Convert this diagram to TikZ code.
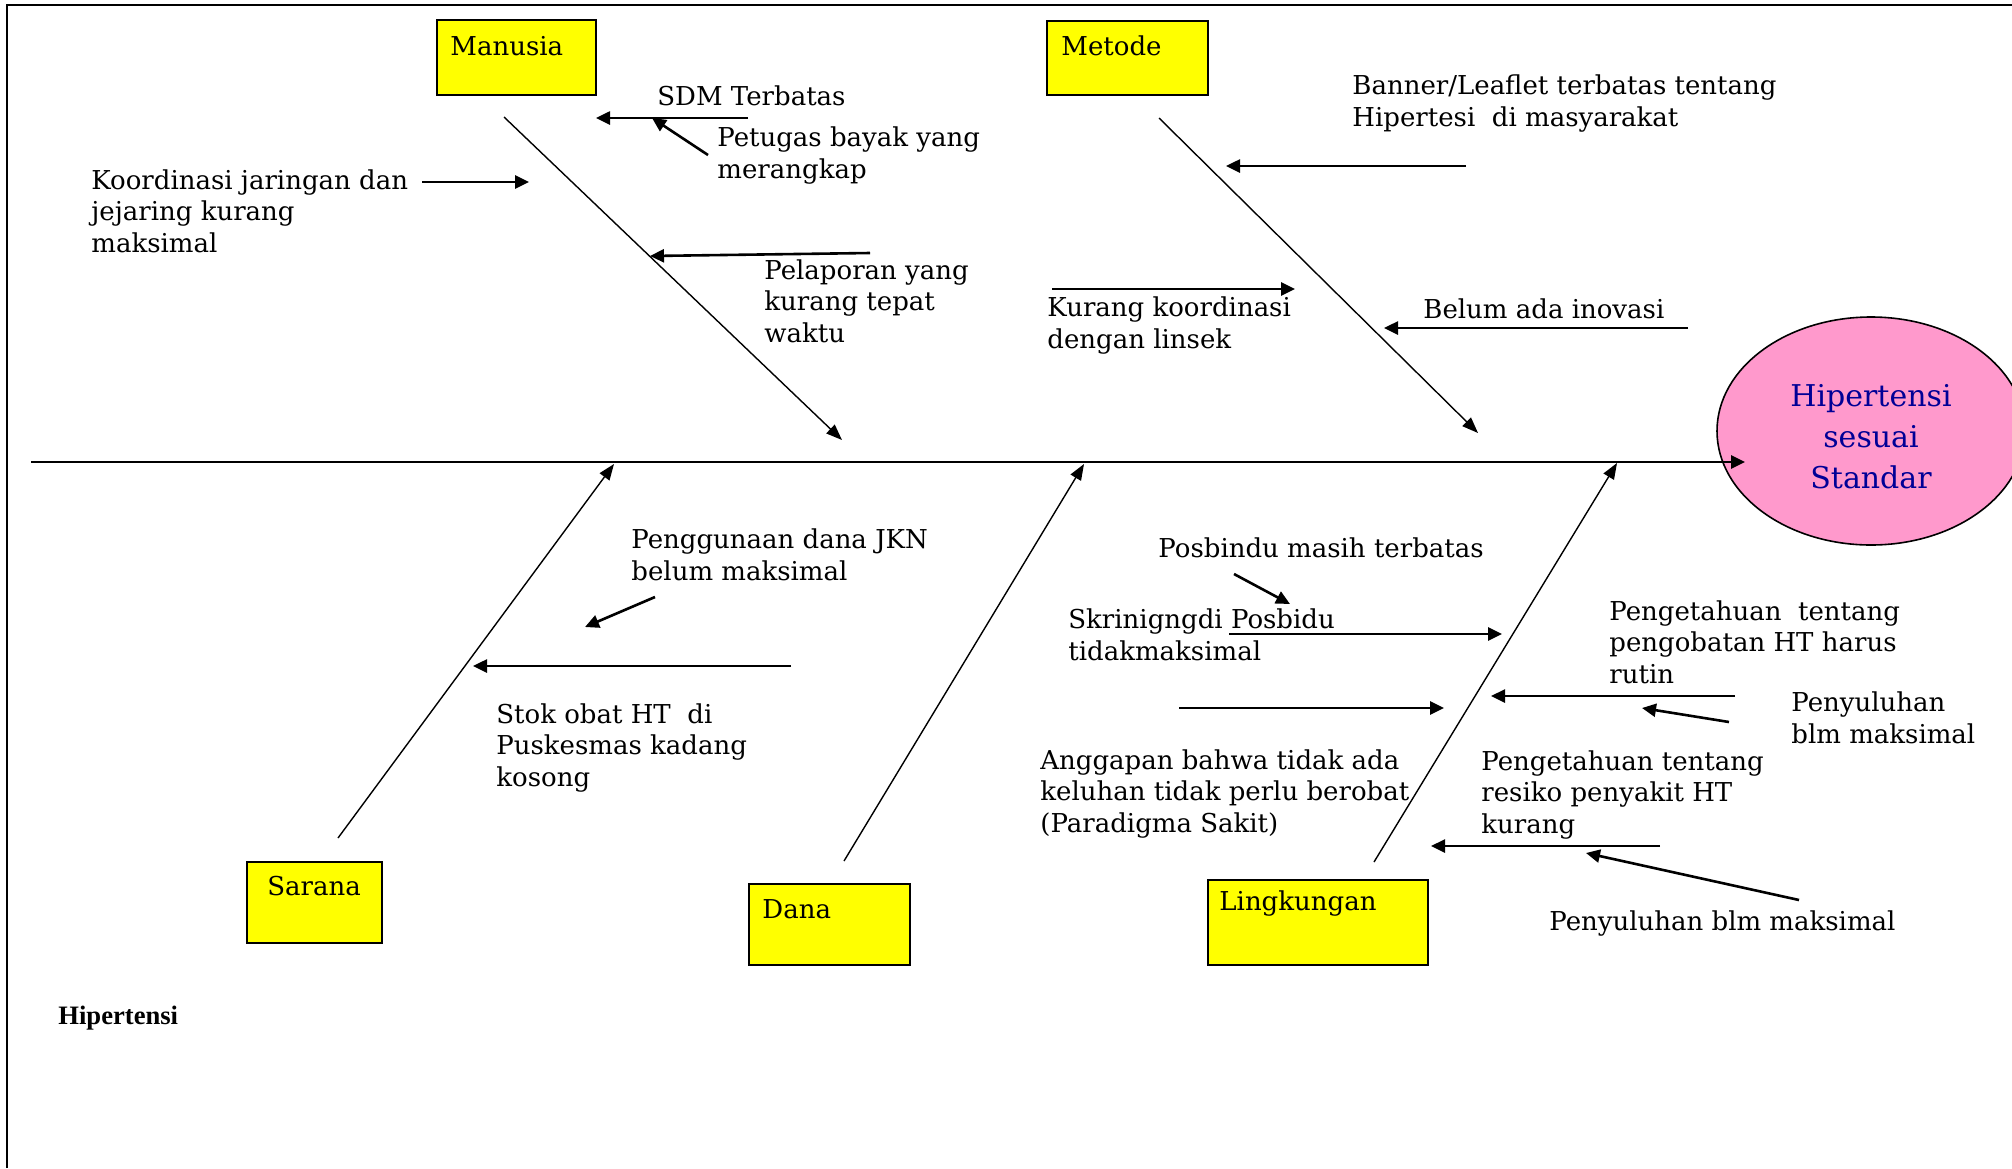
\documentclass[tikz,border=0pt]{standalone}
\usepackage{fontspec}
\setmainfont{DejaVu Serif}
\newfontfamily\timesfont{Liberation Serif}
\usetikzlibrary{arrows.meta,shapes.geometric}
\definecolor{boxyellow}{RGB}{255,255,0}
\definecolor{effectpink}{RGB}{255,153,204}
\definecolor{effectblue}{RGB}{0,0,150}

\begin{document}
\begin{tikzpicture}[x=0.5pt,y=0.5pt,yscale=-1,xscale=1,
  txt/.style={anchor=base west,inner sep=0pt,align=left,font=\fontsize{13}{15.6}\selectfont},
  catbox/.style={draw,line width=1pt,fill=boxyellow,anchor=north west,inner sep=0pt},
  bone/.style={line width=0.7pt,-{Triangle[length=8pt,width=6pt]}},
  cause/.style={line width=1.3pt,-{Triangle[length=7pt,width=6.5pt]}}]
\useasboundingbox (0,0) rectangle (2012,1168);

%Frame
\draw [line width=1pt] (7,1168) -- (7,5) -- (2012,5) ;

%Shape: Ellipse
\node [ellipse,draw,line width=0.8pt,fill=effectpink,minimum width=154pt,minimum height=114pt,inner sep=0pt] (effect) at (1871,431) {};
% Text Node (baseline of last line)
\node [anchor=base,inner sep=0pt,align=center,text=effectblue,font=\fontsize{15}{20.5}\selectfont] (effecttxt) at (1871,488) {Hipertensi\\sesuai\\Standar};

%Straight Lines (spine)
\coordinate (tail) at (31,462);
\coordinate (head) at (1745,462);
\draw [cause] (tail) -- (head) ;

%Shape: Rectangle
\node [catbox,minimum width=79.5pt,minimum height=37.5pt] (manusia) at (436,19) {};
\node [txt] (manusiatxt) at (450,55) {Manusia};
%Shape: Rectangle
\node [catbox,minimum width=80.5pt,minimum height=37pt] (metode) at (1046,20) {};
\node [txt] (metodetxt) at (1061,55) {Metode};
%Shape: Rectangle
\node [catbox,minimum width=67.5pt,minimum height=40.5pt] (sarana) at (246,861) {};
\node [txt] (saranatxt) at (267,895) {Sarana};
%Shape: Rectangle
\node [catbox,minimum width=80.5pt,minimum height=40.5pt] (dana) at (748,883) {};
\node [txt] (danatxt) at (762,918) {Dana};
%Shape: Rectangle
\node [catbox,minimum width=110pt,minimum height=42.5pt] (lingkungan) at (1207,879) {};
\node [txt] (lingkungantxt) at (1219,910) {Lingkungan};

%Straight Lines (bones)
\coordinate (manusia-a) at (504,117);
\coordinate (manusia-b) at (842,440);
\draw [bone] (manusia-a) -- (manusia-b) ;
\coordinate (metode-a) at (1159,118);
\coordinate (metode-b) at (1478,433);
\draw [bone] (metode-a) -- (metode-b) ;
\coordinate (sarana-a) at (338,838);
\coordinate (sarana-b) at (614,464);
\draw [bone] (sarana-a) -- (sarana-b) ;
\coordinate (dana-a) at (844,861);
\coordinate (dana-b) at (1084,464);
\draw [bone] (dana-a) -- (dana-b) ;
\coordinate (lingkungan-a) at (1374,862);
\coordinate (lingkungan-b) at (1617,463);
\draw [bone] (lingkungan-a) -- (lingkungan-b) ;

% Text Node
\node [txt] (sdm) at (657,105) {SDM Terbatas};
\coordinate (sdm-a) at (748,118);
\coordinate (sdm-b) at (596,118);
\draw [cause] (sdm-a) -- (sdm-b) ;
% Text Node
\node [txt] (petugas) at (717,178) {Petugas bayak yang\\merangkap};
\coordinate (petugas-a) at (708,155);
\coordinate (petugas-b) at (652,118);
\draw [cause] (petugas-a) -- (petugas-b) ;
% Text Node
\node [txt] (koordinasi) at (91,252) {Koordinasi jaringan dan\\jejaring kurang\\maksimal};
\coordinate (koordinasi-a) at (422,182);
\coordinate (koordinasi-b) at (529,182);
\draw [cause] (koordinasi-a) -- (koordinasi-b) ;
% Text Node
\node [txt] (pelaporan) at (764,342) {Pelaporan yang\\kurang tepat\\waktu};
\coordinate (pelaporan-a) at (870,253);
\coordinate (pelaporan-b) at (650,256);
\draw [cause] (pelaporan-a) -- (pelaporan-b) ;

% Text Node
\node [txt] (banner) at (1352,126) {Banner/Leaflet terbatas tentang\\Hipertesi\ \ di masyarakat};
\coordinate (banner-a) at (1466,166);
\coordinate (banner-b) at (1226,166);
\draw [cause] (banner-a) -- (banner-b) ;
% Text Node
\node [txt] (linsek) at (1047,348) {Kurang koordinasi\\dengan linsek};
\coordinate (linsek-a) at (1052,289);
\coordinate (linsek-b) at (1295,289);
\draw [cause] (linsek-a) -- (linsek-b) ;
% Text Node
\node [txt] (inovasi) at (1423,318) {Belum ada inovasi};
\coordinate (inovasi-a) at (1688,328);
\coordinate (inovasi-b) at (1384,328);
\draw [cause] (inovasi-a) -- (inovasi-b) ;

% Text Node
\node [txt] (jkn) at (631,580) {Penggunaan dana JKN\\belum maksimal};
\coordinate (jkn-a) at (655,597);
\coordinate (jkn-b) at (585,627);
\draw [cause] (jkn-a) -- (jkn-b) ;
% Text Node
\node [txt] (stok) at (496,786) {Stok obat HT\ \ di\\Puskesmas kadang\\kosong};
\coordinate (stok-a) at (791,666);
\coordinate (stok-b) at (473,666);
\draw [cause] (stok-a) -- (stok-b) ;

% Text Node
\node [txt] (posbindu) at (1158,557) {Posbindu masih terbatas};
\coordinate (posbindu-a) at (1234,574);
\coordinate (posbindu-b) at (1290,604);
\draw [cause] (posbindu-a) -- (posbindu-b) ;
% Text Node
\node [txt] (skrining) at (1068,660) {Skrinigngdi Posbidu\\tidakmaksimal};
\coordinate (skrining-a) at (1229,634);
\coordinate (skrining-b) at (1502,634);
\draw [cause] (skrining-a) -- (skrining-b) ;
% Text Node
\node [txt] (anggapan) at (1040,832) {Anggapan bahwa tidak ada\\keluhan tidak perlu berobat\\(Paradigma Sakit)};
\coordinate (anggapan-a) at (1179,708);
\coordinate (anggapan-b) at (1444,708);
\draw [cause] (anggapan-a) -- (anggapan-b) ;
% Text Node
\node [txt] (pengobatan) at (1609,683) {Pengetahuan\ \ tentang\\pengobatan HT harus\\rutin};
\coordinate (pengobatan-a) at (1735,696);
\coordinate (pengobatan-b) at (1491,696);
\draw [cause] (pengobatan-a) -- (pengobatan-b) ;
% Text Node
\node [txt] (penyuluhan1) at (1791,743) {Penyuluhan\\blm maksimal};
\coordinate (penyuluhan1-a) at (1729,722);
\coordinate (penyuluhan1-b) at (1642,708);
\draw [cause] (penyuluhan1-a) -- (penyuluhan1-b) ;
% Text Node
\node [txt] (resiko) at (1481,833) {Pengetahuan tentang\\resiko penyakit HT\\kurang};
\coordinate (resiko-a) at (1660,846);
\coordinate (resiko-b) at (1431,846);
\draw [cause] (resiko-a) -- (resiko-b) ;
% Text Node
\node [txt] (penyuluhan2) at (1549,930) {Penyuluhan blm maksimal};
\coordinate (penyuluhan2-a) at (1799,900);
\coordinate (penyuluhan2-b) at (1586,853);
\draw [cause] (penyuluhan2-a) -- (penyuluhan2-b) ;

% Text Node
\node [anchor=base west,inner sep=0pt,font=\timesfont\bfseries\fontsize{13.3}{16}\selectfont] (judul) at (58,1024) {Hipertensi};

\end{tikzpicture}
\end{document}
